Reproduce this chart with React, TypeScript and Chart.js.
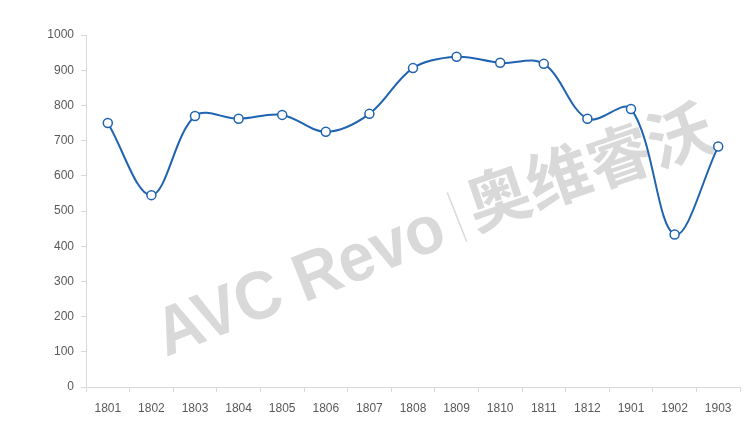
import React, { useEffect, useRef } from "react";
import { Chart, registerables } from "chart.js";

Chart.register(...registerables);

const categories = ["1801", "1802", "1803", "1804", "1805", "1806", "1807", "1808", "1809", "1810", "1811", "1812", "1901", "1902", "1903"];
const values = [750, 545, 770, 762, 773, 725, 776, 906, 938, 921, 918, 762, 790, 433, 683];
const yTicks = [0, 100, 200, 300, 400, 500, 600, 700, 800, 900, 1000];

const FONT = "'Liberation Sans Narrow', 'Liberation Sans', sans-serif";

const watermark = {
  id: "watermark",
  beforeDatasetsDraw(chart: any) {
    const ctx = chart.ctx;
    ctx.save();
    ctx.fillStyle = "#d9d9d9";
    ctx.strokeStyle = "#d9d9d9";
    ctx.textBaseline = "alphabetic";
    ctx.textAlign = "left";
    ctx.save();
    ctx.translate(166, 357);
    ctx.rotate((-21.5 * Math.PI) / 180);
    ctx.font = "bold 68px 'Liberation Sans', sans-serif";
    ctx.fillText("AVC Revo", 0, 0, 305);
    ctx.lineWidth = 1.5;
    ctx.beginPath();
    ctx.moveTo(322, -50);
    ctx.lineTo(322, 3);
    ctx.stroke();
    ctx.restore();
    ctx.save();
    ctx.translate(478, 238);
    ctx.rotate((-19 * Math.PI) / 180);
    ctx.font = "bold 64px 'Noto Sans CJK SC', sans-serif";
    ctx.fillText("奥维睿沃", 0, -8, 256);
    ctx.restore();
    ctx.restore();
  },
};

export default function App() {
  const ref = useRef<HTMLCanvasElement | null>(null);
  useEffect(() => {
    document.body.style.margin = "0";
    const chart = new Chart(ref.current as HTMLCanvasElement, {
      type: "line",
      data: {
        labels: categories,
        datasets: [
          {
            data: values,
            borderColor: "#1f63b1",
            borderWidth: 2,
            tension: 0.35,
            pointRadius: 4.5,
            pointBackgroundColor: "#ffffff",
            pointBorderColor: "#1f63b1",
            pointBorderWidth: 1.5,
            fill: false,
          },
        ],
      },
      options: {
        responsive: false,
        animation: false,
        layout: { padding: { top: 35, right: 11, bottom: 0, left: 0 } },
        plugins: { legend: { display: false }, tooltip: { enabled: false } },
        scales: {
          x: {
            offset: true,
            grid: {
              display: true,
              drawOnChartArea: false,
              offset: true,
              color: "#d9d9d9",
              tickLength: 5,
            },
            border: { color: "#d9d9d9", width: 1 },
            ticks: { color: "#595959", font: { family: FONT, size: 12 }, padding: 9, maxRotation: 0, autoSkip: false },
            afterFit(scale: any) {
              scale.height = 46;
            },
          },
          y: {
            min: 0,
            max: 1000,
            afterBuildTicks(scale: any) {
              scale.ticks = yTicks.map((v) => ({ value: v }));
            },
            grid: {
              display: true,
              drawOnChartArea: false,
              color: "#d9d9d9",
              tickLength: 5,
            },
            border: { color: "#d9d9d9", width: 1 },
            ticks: {
              color: "#595959",
              font: { family: FONT, size: 12 },
              padding: 7,
              callback: (v: any) => String(v),
            },
            afterFit(scale: any) {
              scale.width = 86;
            },
          },
        },
      },
      plugins: [watermark],
    });
    return () => chart.destroy();
  }, []);
  return (
    <div style={{ position: "absolute", left: 0, top: 0, width: 751, height: 433, background: "#fff" }}>
      <canvas ref={ref} width={751} height={433} />
    </div>
  );
}
